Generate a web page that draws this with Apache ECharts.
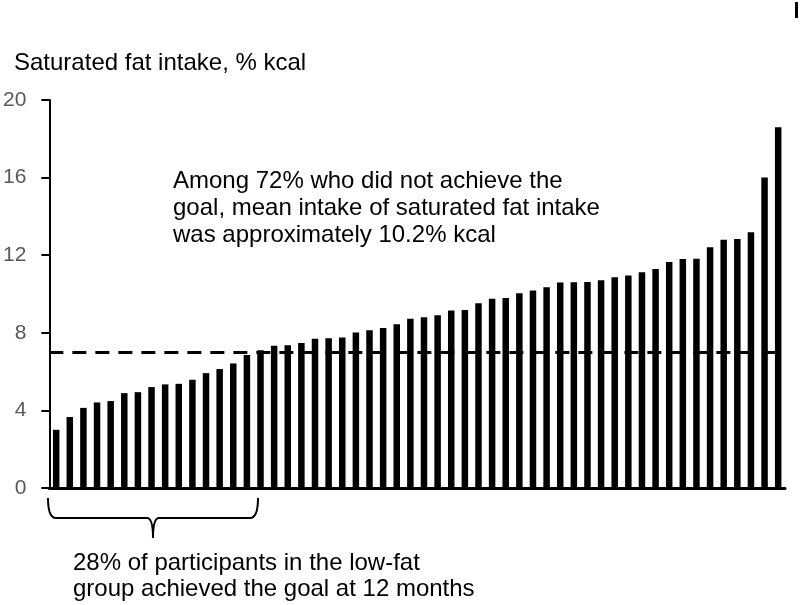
<!DOCTYPE html>
<html>
<head>
<meta charset="utf-8">
<script src="https://cdn.jsdelivr.net/npm/echarts@6/dist/echarts.min.js"></script>
<style>
  html, body { margin: 0; padding: 0; background: #fff; }
  #chart { width: 800px; height: 605px; }
</style>
</head>
<body>
<div id="chart"></div>
<script>
// participants, sorted by saturated fat intake (% kcal) at 12 months
const participants = Array.from({ length: 54 }, (_, i) => 'P' + (i + 1));
const satFat = [
  3.0, 3.66, 4.13, 4.41, 4.48, 4.89, 4.94, 5.2, 5.34, 5.37,
  5.58, 5.92, 6.13, 6.42, 6.86, 7.1, 7.33, 7.36, 7.47, 7.69,
  7.72, 7.76, 8.01, 8.13, 8.25, 8.44, 8.72, 8.8, 8.9, 9.15,
  9.18, 9.52, 9.76, 9.8, 10.04, 10.18, 10.35, 10.59, 10.61, 10.62,
  10.71, 10.86, 10.95, 11.12, 11.29, 11.65, 11.81, 11.82, 12.41, 12.79,
  12.84, 13.18, 16.01, 18.59
];
const goal = 7;
const yTicks = [0, 4, 8, 12, 16, 20];

const FONT = '"Liberation Sans", Arial, sans-serif';

// curly brace under the bars that met the goal
const braceStyle = { stroke: '#000', lineWidth: 2, fill: null };
function brace(x1, x2, yTop, yMid, tip) {
  const xm = (x1 + x2) / 2;
  return [
    { type: 'bezierCurve', shape: { x1: x1, y1: yTop, x2: x1 + 8, y2: yMid, cpx1: x1, cpy1: yMid }, style: braceStyle },
    { type: 'line', shape: { x1: x1 + 8, y1: yMid, x2: xm - 6, y2: yMid }, style: braceStyle },
    { type: 'bezierCurve', shape: { x1: xm - 6, y1: yMid, x2: xm, y2: tip, cpx1: xm, cpy1: yMid }, style: braceStyle },
    { type: 'bezierCurve', shape: { x1: xm + 6, y1: yMid, x2: xm, y2: tip, cpx1: xm, cpy1: yMid }, style: braceStyle },
    { type: 'line', shape: { x1: xm + 6, y1: yMid, x2: x2 - 8, y2: yMid }, style: braceStyle },
    { type: 'bezierCurve', shape: { x1: x2 - 8, y1: yMid, x2: x2, y2: yTop, cpx1: x2, cpy1: yMid }, style: braceStyle }
  ];
}

const chart = echarts.init(document.getElementById('chart'));

chart.setOption({
  animation: false,
  backgroundColor: '#fff',
  grid: { left: 48, right: 15, top: 100, bottom: 117 },
  xAxis: {
    type: 'category',
    data: participants,
    boundaryGap: true,
    axisLine: { lineStyle: { color: '#000', width: 3 } },
    axisTick: { show: false },
    axisLabel: { show: false },
    splitLine: { show: false }
  },
  yAxis: {
    type: 'value',
    min: yTicks[0],
    max: yTicks[yTicks.length - 1],
    interval: 4,
    axisLine: { show: true, lineStyle: { color: '#000', width: 2 } },
    axisTick: { show: true, length: 8, lineStyle: { color: '#000', width: 2 } },
    axisLabel: { color: '#595959', fontSize: 21, fontFamily: FONT, margin: 23 },
    splitLine: { show: false }
  },
  series: [{
    type: 'bar',
    data: satFat,
    barWidth: 6.5,
    itemStyle: { color: '#000' },
    markLine: {
      silent: true,
      symbol: 'none',
      label: { show: false },
      lineStyle: { color: '#000', width: 3, type: [14, 9] },
      data: [{ yAxis: goal }]
    }
  }],
  graphic: [
    {
      type: 'text', left: 14, top: 51,
      style: { text: 'Saturated fat intake, % kcal', font: '24px ' + FONT, fill: '#000' }
    },
    {
      type: 'text', left: 173, top: 168,
      style: {
        text: 'Among 72% who did not achieve the\ngoal, mean intake of saturated fat intake\nwas approximately 10.2% kcal',
        font: '24px ' + FONT, lineHeight: 27, fill: '#000'
      }
    },
    {
      type: 'text', left: 73, top: 550,
      style: {
        text: '28% of participants in the low-fat\ngroup achieved the goal at 12 months',
        font: '24px ' + FONT, lineHeight: 26, fill: '#000'
      }
    },
    ...brace(48, 258, 498, 518, 538),
    {
      type: 'rect',
      shape: { x: 795, y: 2, width: 3, height: 16 },
      style: { fill: '#000' }
    }
  ]
});
</script>
</body>
</html>
